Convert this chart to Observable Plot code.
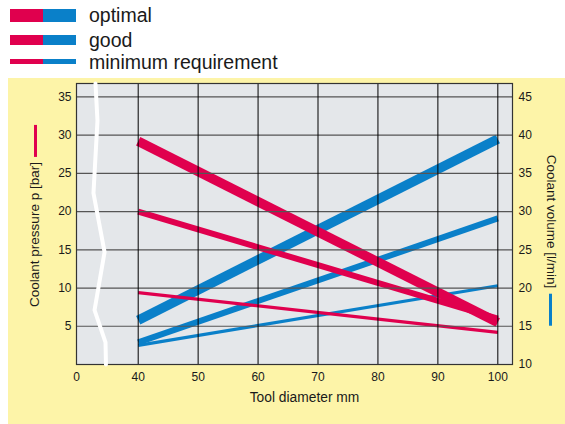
<!DOCTYPE html>
<html><head><meta charset="utf-8">
<script src="https://cdn.jsdelivr.net/npm/d3@7"></script>
<script src="https://cdn.jsdelivr.net/npm/@observablehq/plot@0.6"></script>
<style>
body{margin:0;background:#fff;font-family:"Liberation Sans",Arial,sans-serif;color:#1a1a1a;}
#legend{position:relative;height:78px;width:565px;}
.row{position:absolute;left:10px;height:20px;display:flex;align-items:center;}
.sw{display:flex;width:66px;margin-right:13px;}
.sw span{flex:1;display:block}
.lt{font-size:19.5px;line-height:20px;white-space:nowrap;}
#wrap{position:relative;margin-left:8px;width:557px;height:346px;background:#fdf4a8;}
#wrap svg{display:block}
.yt{position:absolute;display:flex;align-items:center;white-space:nowrap;font-size:13.5px;line-height:16px;color:#1a1a1a;}
.yt .bar{display:block;width:32px;height:3px;margin-left:5px;}
</style></head><body>
<div id="legend"></div>
<div id="wrap"><div id="chart"></div></div>
<script>
// ---- data ----
const diameters = [40, 100];
const pressureOptimal = [29.2, 5.5];
const pressureGood = [20.0, 6.0];
const pressureMinimum = [9.4, 4.2];
const volumeOptimal = [15.8, 39.5];
const volumeGood = [12.9, 29.1];
const volumeMinimum = [12.5, 20.3];
const levels = ["optimal", "good", "minimum requirement"];
const xTicks = [0, 40, 50, 60, 70, 80, 90, 100];
const xGridTicks = [40, 50, 60, 70, 80, 90, 100];
const pressureTicks = [5, 10, 15, 20, 25, 30, 35];
const volumeTicks = [10, 15, 20, 25, 30, 35, 40, 45];
const volumeOffset = 10; // right axis = left axis + 10
const breakX = [12.3, 13.6, 11.0, 18.2, 11.7, 18.8, 19.1];
const breakY = [36.75, 31.9, 22.4, 14.7, 7.1, 2.9, 0];
const xTitle = "Tool diameter mm";
const pressureTitle = "Coolant pressure p [bar]";
const volumeTitle = "Coolant volume [l/min]";

const RED = "#e0004e", BLUE = "#0a80c9";
const widths = [9.5, 6, 3.2];
const swatchHeights = [13, 10, 5];
const rowCenters = [15, 40, 61.7];

// legend
const legend = document.getElementById("legend");
levels.forEach((lvl, i) => {
  const r = document.createElement("div");
  r.className = "row";
  r.style.top = (rowCenters[i] - 10) + "px";
  r.innerHTML = `<div class="sw" style="height:${swatchHeights[i]}px"><span style="background:${RED}"></span><span style="background:${BLUE}"></span></div><span class="lt">${lvl}</span>`;
  legend.appendChild(r);
});

// tidy rows
const pressures = [pressureOptimal, pressureGood, pressureMinimum];
const volumes = [volumeOptimal, volumeGood, volumeMinimum];
const rows = [];
levels.forEach((lvl, i) => {
  diameters.forEach((d, j) => {
    rows.push({level: lvl, kind: "pressure", d, v: pressures[i][j]});
    rows.push({level: lvl, kind: "volume", d, v: volumes[i][j]});
  });
});
const breakData = breakX.map((x, i) => ({x, y: breakY[i]}));

const lineMarks = [];
["volume", "pressure"].forEach(kind => {
  levels.forEach((lvl, i) => {
    lineMarks.push(Plot.line(rows.filter(r => r.kind === kind && r.level === lvl), {
      x: "d",
      y: r => kind === "volume" ? r.v - volumeOffset : r.v,
      stroke: kind === "volume" ? BLUE : RED,
      strokeWidth: widths[i],
      strokeLinecap: "butt"
    }));
  });
});

const chart = Plot.plot({
  width: 557, height: 346,
  marginLeft: 68, marginRight: 53, marginTop: 5, marginBottom: 60,
  style: {background: "transparent", fontFamily: "'Liberation Sans', Arial, sans-serif", fontSize: "12px", color: "#1a1a1a"},
  x: {type: "linear", domain: [0, 40, 102.45], range: [68, 129.7, 504]},
  y: {domain: [0, 36.75]},
  marks: [
    Plot.frame({fill: "#e4e7ea", stroke: "none"}),
    ...lineMarks,
    Plot.gridY(pressureTicks, {stroke: "#555", strokeOpacity: 1, strokeWidth: 1.2}),
    Plot.gridX(xGridTicks, {stroke: "#000", strokeOpacity: 1, strokeWidth: 1}),
    Plot.frame({stroke: "#333", strokeWidth: 1.2}),
    Plot.line(breakData, {x: "x", y: "y", stroke: "#fff", strokeWidth: 4, curve: "linear"}),
    Plot.axisY(pressureTicks, {anchor: "left", tickSize: 0, tickPadding: 5, label: null, fontSize: 12}),
    Plot.axisY(volumeTicks.map(v => v - volumeOffset), {anchor: "right", tickSize: 0, tickPadding: 6, label: null, fontSize: 12, tickFormat: d => d + volumeOffset}),
    Plot.axisX(xTicks, {anchor: "bottom", tickSize: 0, tickPadding: 8, label: null, fontSize: 12}),
    Plot.text([xTitle], {frameAnchor: "bottom", dx: 10, dy: 37, fontSize: 13.8, fill: "#1a1a1a"})
  ]
});
document.getElementById("chart").appendChild(chart);

// rotated axis titles with coloured keys
const wrap = document.getElementById("wrap");
function addTitle(text, color, cx, cy, angle) {
  const d = document.createElement("div");
  d.className = "yt";
  d.style.left = cx + "px";
  d.style.top = cy + "px";
  d.style.transform = `translate(-50%,-50%) rotate(${angle}deg)`;
  d.innerHTML = `<span>${text}</span><span class="bar" style="background:${color}"></span>`;
  wrap.appendChild(d);
}
addTitle(pressureTitle, RED, 27, 138, -90);
addTitle(volumeTitle, BLUE, 543, 162, 90);
</script>
</body></html>
